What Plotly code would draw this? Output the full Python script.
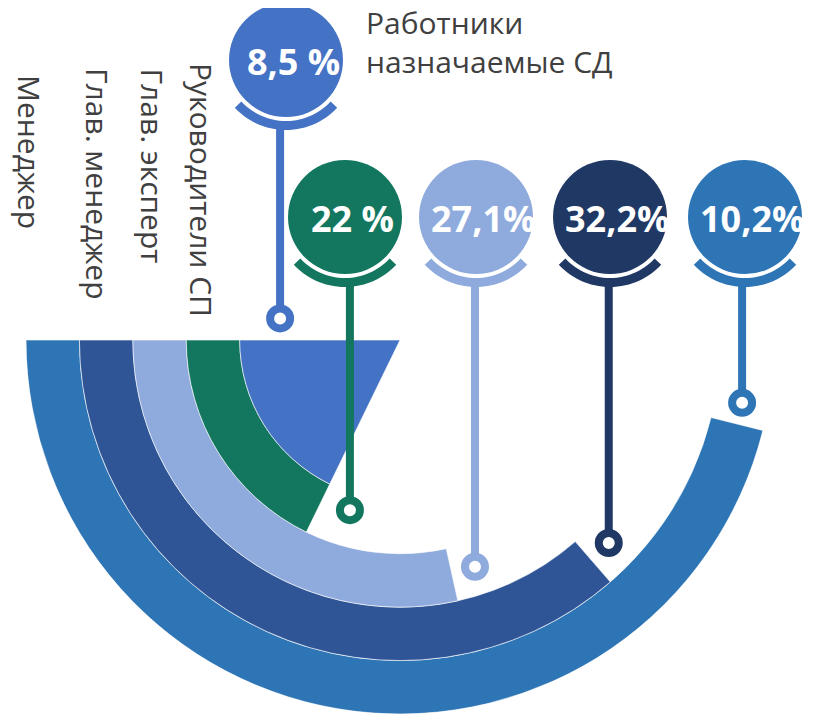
import math
import plotly.graph_objects as go

# ---------------- data ----------------
categories = ["Менеджер", "Глав. менеджер", "Глав. эксперт", "Руководители СП", "Работники назначаемые СД"]
shares = [10.2, 32.2, 27.1, 22.0, 8.5]
share_labels = ["10,2%", "32,2%", "27,1%", "22 %", "8,5 %"]
arc_degrees = [166, 131, 102.5, 64, 64]          # sweep of each arc, starting at the left

# ---------------- style / layout constants ----------------
arc_colors = ["#2E75B6", "#2F5597", "#8FAADC", "#13775F", "#4472C4"]
badge_colors = ["#2E75B6", "#203864", "#8FAADC", "#13775F", "#4472C4"]
band_base = [6, 5, 4, 3, 0]
band_thick = [1, 1, 1, 1, 3]
N_BANDS = 7

W, H = 823, 716
OFF = 8                    # page margin around the figure
CX, CY = 400 - OFF, 340 - OFF   # figure-pixel position of the polar centre
R = 374                    # outer radius in pixels
U = R / N_BANDS            # pixels per band unit

# pin anchor (ring) positions in polar coordinates: radius (band units), angle (deg)
pin_r = [6.51, 5.45, 4.47, 3.32, 2.28]
pin_theta = [349.6, 315.8, 288.3, 253.6, 169.8]
# badge centres (page pixels)
badge_px = [745, 610, 476, 345, 286]
badge_py = [217, 217, 217, 217, 60]
BADGE_R = 57
CRES_IN, CRES_OUT, CRES_HALF = 61, 70, 47
PIN_W = 8
RING_R = 10

def X(px):
    return (px - OFF - CX) / U

def Y(py):
    return (CY - (py - OFF)) / U

fig = go.Figure()

for i, cat in enumerate(categories):
    fig.add_trace(go.Barpolar(
        r=[band_thick[i]], base=[band_base[i]],
        theta=[180 + arc_degrees[i] / 2], width=[arc_degrees[i]],
        marker=dict(color=arc_colors[i], line=dict(color="white", width=0.6)),
        name=cat, customdata=[shares[i]],
        hovertemplate=cat + ": %{customdata}%<extra></extra>",
        showlegend=False,
    ))

# invisible cartesian trace so the overlay axes exist
fig.add_trace(go.Scatter(x=[X(OFF), X(W + OFF)], y=[Y(H + OFF), Y(OFF)], mode="markers",
                         marker=dict(opacity=0), hoverinfo="skip", showlegend=False))

shapes = []
annotations = []
for i in range(len(categories)):
    col = badge_colors[i]
    bx, by = X(badge_px[i]), Y(badge_py[i])
    rb = BADGE_R / U
    shapes.append(dict(type="circle", xref="x", yref="y", x0=bx - rb, x1=bx + rb,
                       y0=by - rb, y1=by + rb, fillcolor=col, line=dict(width=0), layer="above"))
    # crescent under the badge
    pts = []
    n = 30
    for k in range(n + 1):
        a = math.radians(-90 - CRES_HALF + 2 * CRES_HALF * k / n)
        pts.append((bx + CRES_OUT / U * math.cos(a), by + CRES_OUT / U * math.sin(a)))
    for k in range(n + 1):
        a = math.radians(-90 + CRES_HALF - 2 * CRES_HALF * k / n)
        pts.append((bx + CRES_IN / U * math.cos(a), by + CRES_IN / U * math.sin(a)))
    path = "M " + " L ".join(f"{p[0]:.4f},{p[1]:.4f}" for p in pts) + " Z"
    shapes.append(dict(type="path", xref="x", yref="y", path=path, fillcolor=col,
                       line=dict(width=0), layer="above"))
    # pin
    rx = pin_r[i] * math.cos(math.radians(pin_theta[i]))
    ry = pin_r[i] * math.sin(math.radians(pin_theta[i]))
    top = by - (CRES_OUT - 2) / U
    shapes.append(dict(type="line", xref="x", yref="y", x0=rx, x1=rx, y0=top, y1=ry,
                       line=dict(color=col, width=PIN_W), layer="above"))
    rr = RING_R / U
    shapes.append(dict(type="circle", xref="x", yref="y", x0=rx - rr, x1=rx + rr,
                       y0=ry - rr, y1=ry + rr, fillcolor="white",
                       line=dict(color=col, width=PIN_W), layer="above"))
    annotations.append(dict(x=X(badge_px[i] + 7), y=Y(badge_py[i] + 1), xref="x", yref="y",
                            text="<b>" + share_labels[i] + "</b>", showarrow=False,
                            font=dict(family="Open Sans", size=36, color="white", weight=800),
                            xanchor="center", yanchor="middle"))

label_x = [30, 98, 152, 202]
label_top = [73, 66, 66, 61]
for i in range(4):
    annotations.append(dict(x=(label_x[i] - OFF) / W, y=1 - (label_top[i] - OFF) / H,
                            xref="paper", yref="paper",
                            text=categories[i], textangle=90, showarrow=False,
                            font=dict(family="Open Sans", size=30, color="#404040"),
                            xanchor="center", yanchor="top"))
annotations.append(dict(x=(364 - OFF) / W, y=1 - (0 - OFF) / H, xref="paper", yref="paper",
                        text="Работники<br>назначаемые СД", showarrow=False, align="left",
                        font=dict(family="Open Sans", size=30, color="#404040"),
                        xanchor="left", yanchor="top"))

fig.update_layout(
    width=W, height=H, autosize=False,
    margin=dict(l=0, r=0, t=0, b=0),
    paper_bgcolor="white", plot_bgcolor="rgba(0,0,0,0)",
    polar=dict(
        domain=dict(x=[(CX - R) / W, (CX + R) / W], y=[(H - CY - R) / H, (H - CY) / H]),
        sector=[180, 360], hole=0, bgcolor="rgba(0,0,0,0)",
        radialaxis=dict(range=[0, N_BANDS], visible=False, showgrid=False),
        angularaxis=dict(visible=False, showgrid=False, rotation=0, direction="counterclockwise"),
    ),
    xaxis=dict(range=[X(OFF), X(W + OFF)], visible=False, domain=[0, 1], fixedrange=True),
    yaxis=dict(range=[Y(H + OFF), Y(OFF)], visible=False, domain=[0, 1], fixedrange=True),
    shapes=shapes, annotations=annotations,
    showlegend=False,
)

fig.write_html("out.html")
